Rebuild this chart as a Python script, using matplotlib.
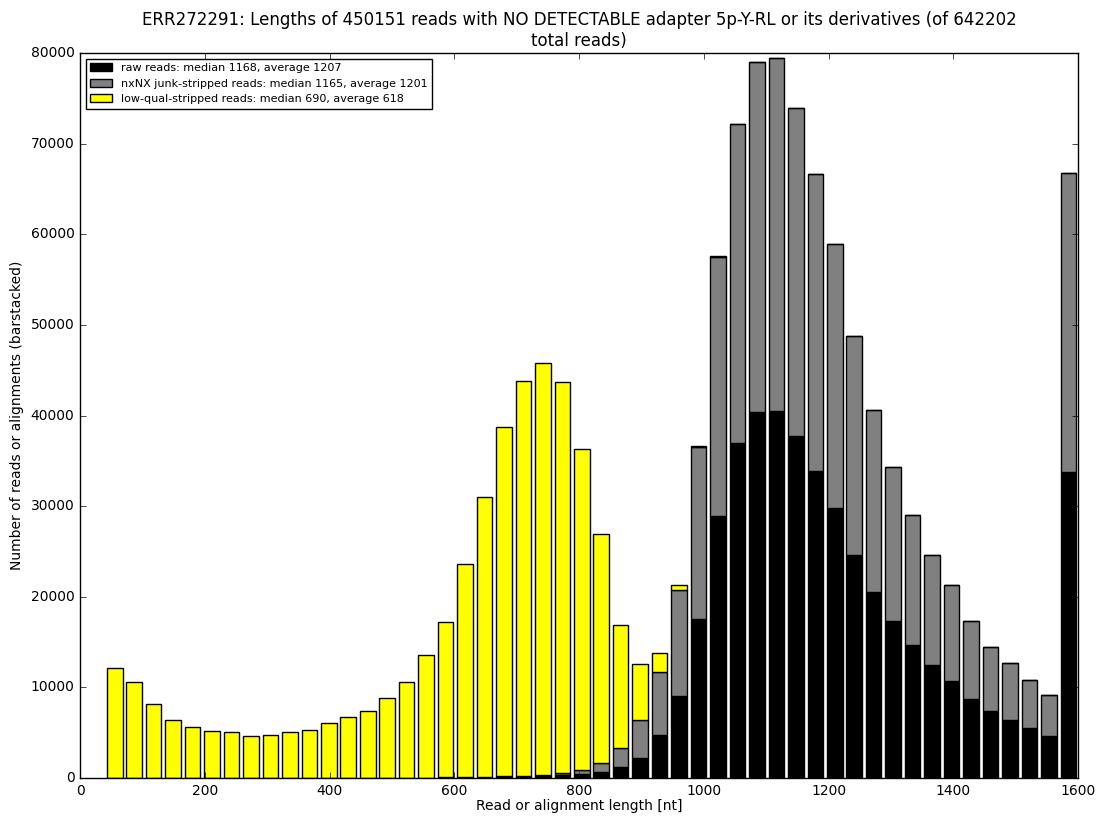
import matplotlib
matplotlib.use("Agg")
import matplotlib.pyplot as plt
import numpy as np

plt.style.use("classic")

# histogram bin layout (50 bins)
bin_edges = np.linspace(40, 1600, 51)

raw_counts = [0] * 17 + [
    50, 80, 100, 100, 150, 200, 300, 400, 650, 1250,
    2250, 4700, 9050, 17500, 28900, 37000, 40400, 40500, 37700, 33900,
    29800, 24600, 20500, 17350, 14700, 12450, 10700, 8700, 7400, 6400,
    5550, 4600, 33800,
]
nxnx_counts = [0] * 17 + [
    50, 40, 50, 100, 100, 150, 300, 480, 1050, 2050,
    4150, 6950, 11650, 19050, 28600, 35200, 38600, 38900, 36200, 32700,
    29100, 24200, 20100, 17000, 14300, 12150, 10550, 8600, 7100, 6250,
    5250, 4550, 32950,
]
lowqual_counts = [
    12100, 10550, 8150, 6450, 5600, 5200, 5050, 4600, 4700, 5050,
    5350, 6050, 6700, 7450, 8800, 10600, 13550, 17150, 23500, 30850,
    38500, 43550, 45450, 43050, 35400, 25200, 13550, 6200, 2150, 600,
    100, 100,
] + [0] * 18

labels = [
    "raw reads: median 1168, average 1207",
    "nxNX junk-stripped reads: median 1165, average 1201",
    "low-qual-stripped reads: median 690, average 618",
]
colors = ["black", "gray", "yellow"]

fig = plt.figure(figsize=(11.04, 8.24), dpi=100, facecolor="white")
ax = fig.add_axes([0.0725, 0.0558, 0.904, 0.8799])

centers = (bin_edges[:-1] + bin_edges[1:]) / 2
width = 0.8 * (bin_edges[1] - bin_edges[0])
bottom = np.zeros(len(centers))
for counts, color, label in zip([raw_counts, nxnx_counts, lowqual_counts], colors, labels):
    counts = np.array(counts, dtype=float)
    ax.bar(centers, counts, width=width, bottom=bottom, color=color,
           edgecolor="black", linewidth=1, label=label, align="center")
    bottom += counts

ax.set_xlim(0, 1600)
ax.set_ylim(0, 80000)
ax.set_xticks(np.arange(0, 1601, 200))
ax.set_yticks(np.arange(0, 80001, 10000))
ax.tick_params(labelsize=10)
ax.set_xlabel("Read or alignment length [nt]", fontsize=10, labelpad=1)
ax.set_ylabel("Number of reads or alignments (barstacked)", fontsize=10)
ax.set_title("ERR272291: Lengths of 450151 reads with NO DETECTABLE adapter 5p-Y-RL or its derivatives (of 642202\ntotal reads)",
             fontsize=12)
ax.legend(loc="upper left", fontsize=8)

fig.savefig("out.png", dpi=100, facecolor="white")
